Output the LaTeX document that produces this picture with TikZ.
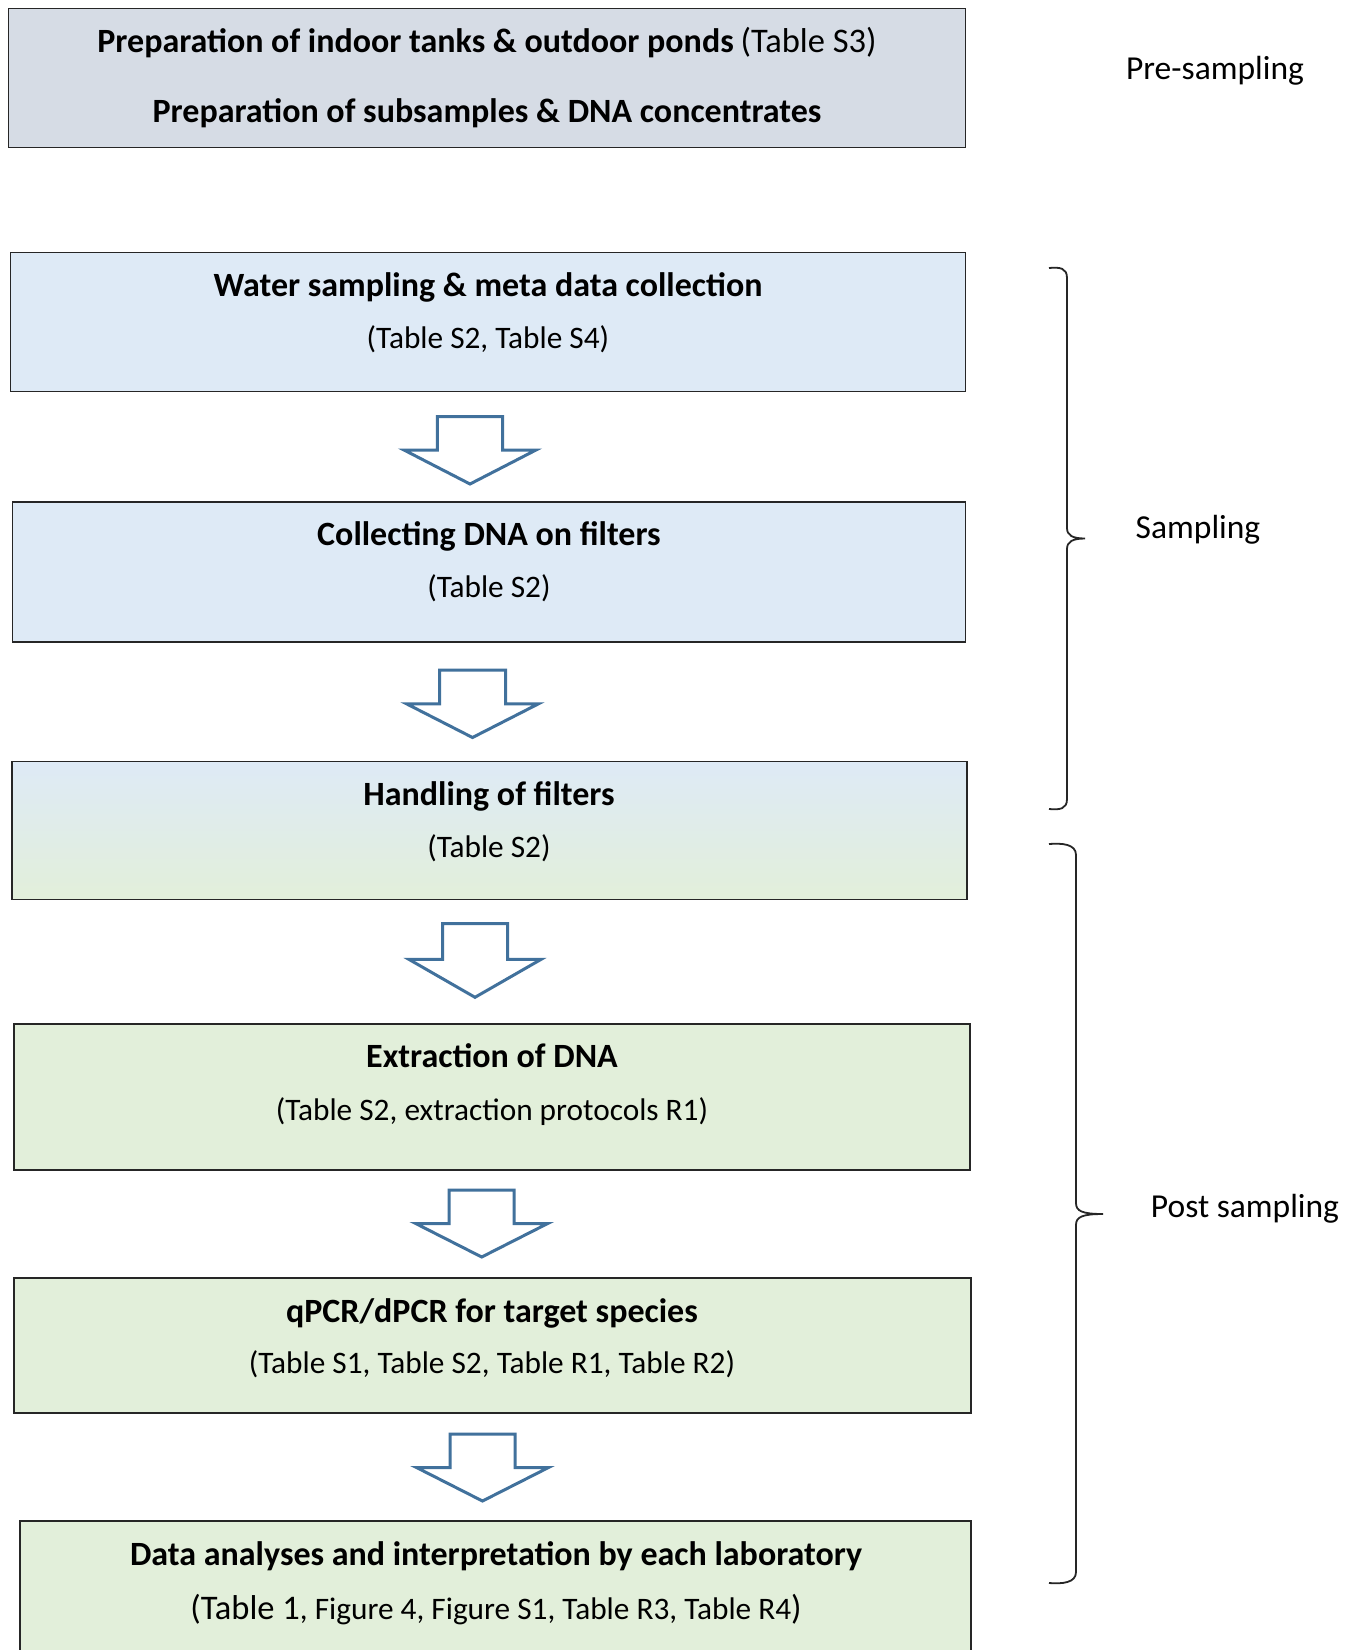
\documentclass[tikz,border=0pt]{standalone}
\usepackage{fontspec}
\setmainfont{Carlito}
\definecolor{greyblue}{HTML}{D6DCE5}
\definecolor{lightblue}{HTML}{DEEAF6}
\definecolor{lightgreen}{HTML}{E2EFDA}
\definecolor{arrowblue}{HTML}{41719C}
\definecolor{boxline}{HTML}{262626}
\newcommand{\bt}[1]{{\fontsize{34}{40}\selectfont\bfseries #1}}
\tikzset{
  stepbox/.style={draw=boxline, line width=1.7pt, rectangle, inner sep=0pt},
  boxtext/.style={anchor=base, inner sep=0pt, font=\fontsize{31.3}{37}\selectfont},
  sidelabel/.style={anchor=base, inner sep=0pt, font=\fontsize{33.5}{40}\selectfont},
  blockarrow/.style={draw=arrowblue, line width=3pt, fill=white, line join=miter},
  bracepath/.style={draw=black!85, line width=1.8pt}
}
\newcommand{\flowarrow}[5]{% xc, ytop, yshoulder, ytip, halfshaft
  \path[blockarrow] (#1-#5,#2) -- (#1+#5,#2) -- (#1+#5,#3) -- (#1+66,#3) -- (#1,#4) -- (#1-66,#3) -- (#1-#5,#3) -- cycle;}
\begin{document}
\begin{tikzpicture}[x=1pt,y=-1pt]
\useasboundingbox[fill=white] (0,0) rectangle (1356,1650);

% boxes
\node[stepbox, fill=greyblue, minimum width=957pt, minimum height=139pt] (b1) at (487,78) {};
\node[stepbox, fill=lightblue, minimum width=955pt, minimum height=139pt] (b2) at (488,322) {};
\node[stepbox, fill=lightblue, minimum width=953pt, minimum height=140pt] (b3) at (489,572) {};
\shade[top color=lightblue, bottom color=lightgreen, middle color=lightblue!50!lightgreen] (11.6,761.6) rectangle (966.8,899.5);
\node[stepbox, minimum width=955pt, minimum height=138pt] (b4) at (489.2,830.5) {};
\node[stepbox, fill=lightgreen, minimum width=956pt, minimum height=146pt] (b5) at (492,1096.7) {};
\node[stepbox, fill=lightgreen, minimum width=957pt, minimum height=135pt] (b6) at (492.3,1345.4) {};
\node[stepbox, fill=lightgreen, minimum width=951pt, minimum height=180pt] (b7) at (495.5,1611) {};

% texts
\node[boxtext] (t1a) at (487,52.5) {\bt{Preparation of indoor tanks \& outdoor ponds} {\fontsize{34.5}{40}\selectfont(Table S3)}};
\node[boxtext] (t1b) at (487,122) {\bt{Preparation of subsamples \& DNA concentrates}};
\node[boxtext] (t2a) at (488,296.5) {\bt{Water sampling \& meta data collection}};
\node[boxtext] (t2b) at (488,348.5) {(Table S2, Table S4)};
\node[boxtext] (t3a) at (489,545) {\bt{Collecting DNA on filters}};
\node[boxtext] (t3b) at (489,597) {(Table S2)};
\node[boxtext] (t4a) at (489,805.5) {\bt{Handling of filters}};
\node[boxtext] (t4b) at (489,857) {(Table S2)};
\node[boxtext] (t5a) at (492,1067.5) {\bt{Extraction of DNA}};
\node[boxtext] (t5b) at (492,1120) {(Table S2, extraction protocols R1)};
\node[boxtext] (t6a) at (492,1322.5) {\bt{qPCR/dPCR for target species}};
\node[boxtext] (t6b) at (492,1373.5) {(Table S1, Table S2, Table R1, Table R2)};
\node[boxtext] (t7a) at (496,1565.5) {\bt{Data analyses and interpretation by each laboratory}};
\node[boxtext] (t7b) at (496,1619) {{\fontsize{34.5}{40}\selectfont(Table 1}, Figure 4, Figure S1, Table R3, Table R4{\fontsize{34.5}{40}\selectfont)}};

% block arrows between boxes
\flowarrow{470}{416.6}{450}{484}{32.6}
\flowarrow{472.5}{670}{703.8}{737.5}{33}
\flowarrow{475}{923.7}{959.4}{997.3}{32.5}
\flowarrow{481.7}{1190}{1223.5}{1257}{32.5}
\flowarrow{482.5}{1434}{1467.5}{1501}{32.5}

% braces
\coordinate (s1top) at (1049,268);
\coordinate (s1tip) at (1085,538.5);
\coordinate (s1bot) at (1049,809);
\path[bracepath] (s1top) .. controls (1060,267) and (1067,268) .. (1067,278) -- (1067,528)
  .. controls (1067,535) and (1072,538.5) .. (s1tip)
  .. controls (1072,538.5) and (1067,542) .. (1067,549) -- (1067,799)
  .. controls (1067,809) and (1060,810) .. (s1bot);
\coordinate (s2top) at (1049,844);
\coordinate (s2tip) at (1103,1214);
\coordinate (s2bot) at (1049,1583);
\path[bracepath] (s2top) .. controls (1062,843) and (1076,844) .. (1076,855) -- (1076,1203)
  .. controls (1076,1211) and (1082,1214) .. (s2tip)
  .. controls (1082,1214) and (1076,1217) .. (1076,1225) -- (1076,1572)
  .. controls (1076,1583) and (1062,1584) .. (s2bot);

% side labels
\node[sidelabel] (lpre) at (1215,79) {Pre-sampling};
\node[sidelabel] (lsam) at (1198,538) {Sampling};
\node[sidelabel] (lpost) at (1245,1217) {Post sampling};
\end{tikzpicture}
\end{document}
